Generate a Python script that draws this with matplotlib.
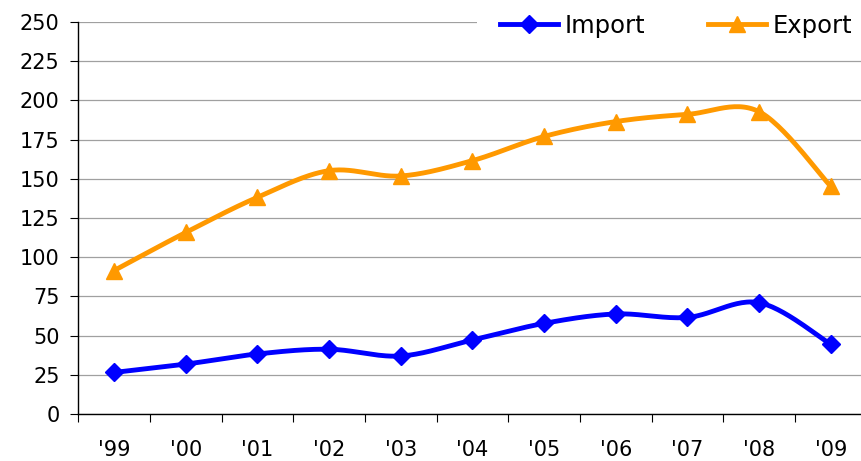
import numpy as np
import matplotlib.pyplot as plt
from matplotlib.patches import Rectangle

years = ["'99", "'00", "'01", "'02", "'03", "'04", "'05", "'06", "'07", "'08", "'09"]
imports = [26.5, 31.8, 38.3, 41.3, 37.0, 47.2, 57.8, 63.8, 61.6, 71.0, 44.5]
exports = [91.5, 115.8, 138.2, 155.2, 151.8, 161.6, 177.0, 186.5, 191.1, 192.8, 145.2]


def smooth(x, y, steps=30):
    # Excel-style smoothed line (Catmull-Rom as cubic Bezier)
    x = np.asarray(x, float)
    y = np.asarray(y, float)
    px = np.concatenate([[x[0]], x, [x[-1]]])
    py = np.concatenate([[y[0]], y, [y[-1]]])
    xs, ys = [], []
    t = np.linspace(0, 1, steps)
    for i in range(1, len(px) - 2):
        p0 = np.array([px[i], py[i]])
        p3 = np.array([px[i + 1], py[i + 1]])
        p1 = p0 + (np.array([px[i + 1], py[i + 1]]) - np.array([px[i - 1], py[i - 1]])) / 6
        p2 = p3 - (np.array([px[i + 2], py[i + 2]]) - p0) / 6
        b = ((1 - t) ** 3)[:, None] * p0 + (3 * (1 - t) ** 2 * t)[:, None] * p1 \
            + (3 * (1 - t) * t ** 2)[:, None] * p2 + (t ** 3)[:, None] * p3
        xs.extend(b[:, 0])
        ys.extend(b[:, 1])
    return xs, ys


blue = '#0000FF'
orange = '#FF9900'

fig = plt.figure(figsize=(8.61, 4.61), dpi=100)
ax = fig.add_axes([78.3 / 861, 47 / 461, (866.6 - 78.3) / 861, 392 / 461])

x = np.arange(len(years))
for vals, col, mk, ms, lab in [(imports, blue, 'D', 9.5, 'Import'),
                               (exports, orange, '^', 11, 'Export')]:
    sx, sy = smooth(x, vals)
    ax.plot(sx, sy, color=col, lw=3.5, solid_capstyle='round', zorder=3)
    ax.plot(x, vals, linestyle='none', marker=mk, ms=ms, color=col, zorder=4)
    ax.plot([], [], color=col, lw=3.5, marker=mk, ms=ms, label=lab)

ax.set_xlim(-0.5, len(years) - 0.5)
ax.set_ylim(0, 250)
ax.set_yticks(np.arange(0, 251, 25))
ax.yaxis.grid(True, color='#A0A0A0', lw=0.9)
ax.set_axisbelow(True)

ax.set_xticks(np.arange(-0.5, len(years), 1))
ax.set_xticklabels([])
ax.set_xticks(x, minor=True)
ax.set_xticklabels(years, minor=True)
ax.tick_params(axis='x', which='major', length=6, width=0.8, direction='out')
ax.tick_params(axis='x', which='minor', length=0, pad=19, labelsize=15)
ax.tick_params(axis='y', length=6, width=0.8, pad=7.5, labelsize=15)

for s in ['top', 'right']:
    ax.spines[s].set_visible(False)
for s in ['left', 'bottom']:
    ax.spines[s].set_linewidth(1)

# white legend area that hides the top gridline
fig.patches.append(Rectangle((477 / 861, 1 - 40 / 461), 1, 40 / 461,
                             transform=fig.transFigure, facecolor='white',
                             edgecolor='none', zorder=5))

leg = fig.legend(loc='center right', bbox_to_anchor=(852 / 861, 1 - 26 / 461),
                 ncol=2, frameon=False, fontsize=17.5, handlelength=2.4,
                 handletextpad=0.25, columnspacing=2.6, borderpad=0,
                 borderaxespad=0, numpoints=1)
leg.set_zorder(10)

fig.savefig('out.png', dpi=100)
